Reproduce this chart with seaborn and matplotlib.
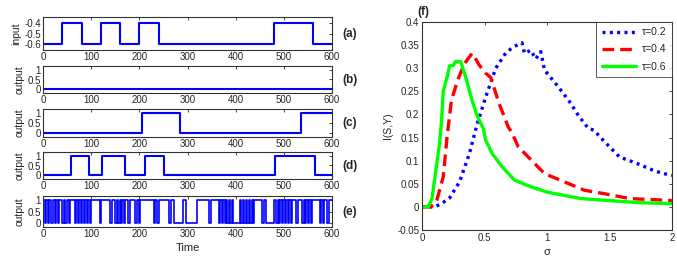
import numpy as np
import pandas as pd
import matplotlib
matplotlib.use("Agg")
import matplotlib.pyplot as plt
from matplotlib.ticker import FuncFormatter
import seaborn as sns

# ---------------- data ----------------
time_max = 600
input_levels = [-0.6, -0.4]
input_high = [(40, 80), (120, 160), (200, 240), (480, 560)]
out_b_high = []
out_c_high = [(205, 284), (535, 600)]
out_d_high = [(59, 96), (122, 170), (211, 251), (481, 564)]
out_e_high = [(0, 4), (7, 10), (13, 17), (20, 24), (27, 31), (34, 40), (43, 46), (49, 53),
              (56, 66), (69, 72), (75, 79), (82, 85), (88, 91), (94, 97), (100, 118),
              (121, 140), (143, 150), (153, 156), (159, 162), (165, 168), (171, 176),
              (181, 190), (196, 199), (202, 230), (233, 237), (240, 262), (266, 271),
              (290, 296), (320, 345), (348, 365), (368, 371), (374, 377), (380, 383),
              (386, 389), (392, 395), (409, 412), (415, 418), (421, 424), (427, 430),
              (433, 436), (439, 455), (458, 463), (480, 484), (487, 490), (493, 496),
              (499, 502), (505, 508), (511, 514), (517, 526), (529, 538), (541, 544),
              (547, 550), (553, 556), (559, 575), (578, 581), (584, 590), (593, 600)]
out_levels = [0, 1]

sigma_02 = [0, 0.05, 0.10, 0.15, 0.22, 0.30, 0.38, 0.44, 0.51, 0.59, 0.67, 0.73, 0.80,
            0.82, 0.87, 0.91, 0.95, 0.98, 1.09, 1.19, 1.25, 1.33, 1.375, 1.45, 1.58,
            1.72, 1.85, 1.92, 2.0]
info_02 = [0, 0, 0, 0.006, 0.019, 0.054, 0.116, 0.178, 0.238, 0.30, 0.333, 0.346, 0.355,
           0.332, 0.339, 0.32, 0.336, 0.296, 0.26, 0.224, 0.198, 0.17, 0.166, 0.144, 0.108,
           0.094, 0.079, 0.073, 0.068]
sigma_04 = [0, 0.07, 0.115, 0.17, 0.20, 0.235, 0.285, 0.34, 0.40, 0.42, 0.457, 0.51, 0.55,
            0.616, 0.69, 0.72, 0.77, 0.875, 0.98, 1.14, 1.30, 1.45, 1.66, 1.98, 2.0]
info_04 = [0, 0, 0.011, 0.065, 0.15, 0.23, 0.274, 0.31, 0.332, 0.325, 0.307, 0.289, 0.28,
           0.224, 0.173, 0.16, 0.13, 0.101, 0.072, 0.054, 0.036, 0.029, 0.018, 0.014, 0.013]
sigma_06 = [0, 0.05, 0.08, 0.115, 0.14, 0.155, 0.17, 0.205, 0.22, 0.25, 0.27, 0.31, 0.35,
            0.40, 0.44, 0.49, 0.51, 0.56, 0.64, 0.74, 0.875, 1.0, 1.27, 1.53, 1.75, 2.0]
info_06 = [0, 0, 0.018, 0.087, 0.137, 0.18, 0.25, 0.285, 0.305, 0.306, 0.315, 0.314, 0.28,
           0.231, 0.198, 0.17, 0.144, 0.116, 0.087, 0.058, 0.043, 0.032, 0.018, 0.013,
           0.009, 0.007]
tau_labels = ["τ=0.2", "τ=0.4", "τ=0.6"]
panel_labels = ["(a)", "(b)", "(c)", "(d)", "(e)"]

# ---------------- style ----------------
sns.set_style("white")
plt.rcParams["font.family"] = ["Liberation Sans", "DejaVu Sans"]
plt.rcParams["axes.edgecolor"] = "#333333"
plt.rcParams["axes.linewidth"] = 0.8

W, H = 677, 259
fig = plt.figure(figsize=(W / 100, H / 100), dpi=100)


def rect(x0, y0, x1, y1):
    return [x0 / W, 1 - y1 / H, (x1 - x0) / W, (y1 - y0) / H]


def steps(intervals, lo, hi, tmax=time_max):
    t = [0.0]
    v = [lo]
    for s, e in intervals:
        if s == 0:
            v[0] = hi
        else:
            t.append(s)
            v.append(hi)
        if e < tmax:
            t.append(e)
            v.append(lo)
    t.append(tmax)
    v.append(v[-1])
    return pd.DataFrame({"t": t, "v": v})


left_rows = [(17, 50), (66, 93), (109, 137), (152, 179), (196, 227)]
signals = [(input_high, input_levels), (out_b_high, out_levels), (out_c_high, out_levels),
           (out_d_high, out_levels), (out_e_high, out_levels)]

fmt_g = FuncFormatter(lambda v, p: ("%g" % v))
for i, ((y0, y1), (iv, lv)) in enumerate(zip(left_rows, signals)):
    ax = fig.add_axes(rect(43, y0, 332, y1))
    df = steps(iv, lv[0], lv[1])
    sns.lineplot(data=df, x="t", y="v", ax=ax, drawstyle="steps-post", color="#0000ff",
                 lw=1.5 if i < 4 else 1.2, sort=False, estimator=None)
    ax.set_xlim(0, 600)
    ax.set_xticks(range(0, 601, 100))
    if i == 0:
        ax.set_ylim(-0.66, -0.34)
        ax.set_yticks([-0.6, -0.5, -0.4])
        ax.set_ylabel("input", fontsize=7.5, labelpad=2)
    else:
        ax.set_ylim(-0.2, 1.2)
        ax.set_yticks([0, 0.5, 1])
        ax.set_ylabel("output", fontsize=7.5, labelpad=2)
    ax.yaxis.set_major_formatter(fmt_g)
    ax.set_xlabel("")
    ax.tick_params(direction="in", top=True, right=True, length=2.5, width=0.6,
                   labelsize=7, pad=1.5)
    ax.text(1.035, 0.5, panel_labels[i], transform=ax.transAxes, fontsize=8.5,
            fontweight="bold", va="center", ha="left")
    if i == 4:
        ax.set_xlabel("Time", fontsize=8, labelpad=3)

# ---------------- right panel ----------------
axf = fig.add_axes(rect(422, 22, 672, 230))
curves = [(sigma_02, info_02, "#0000ff", (0, (0.9, 1.3))),
          (sigma_04, info_04, "#ff0000", (0, (3.5, 1.8))),
          (sigma_06, info_06, "#00ff00", "-")]
for (sx, iy, col, ls), lab in zip(curves, tau_labels):
    sns.lineplot(x=sx, y=iy, ax=axf, color=col, lw=2.4, linestyle=ls, label=lab,
                 sort=False, estimator=None)
axf.set_xlim(0, 2)
axf.set_ylim(-0.05, 0.4)
axf.set_xticks([0, 0.5, 1, 1.5, 2])
axf.set_yticks(np.arange(-0.05, 0.401, 0.05))
axf.xaxis.set_major_formatter(fmt_g)
axf.yaxis.set_major_formatter(FuncFormatter(lambda v, p: "%g" % round(v, 2)))
axf.tick_params(direction="in", top=True, right=True, length=2.5, width=0.6,
                labelsize=7, pad=2)
axf.set_xlabel("σ", fontsize=8, labelpad=3)
axf.set_ylabel("I(S,Y)", fontsize=7.5, labelpad=3)
axf.text(-0.02, 1.02, "(f)", transform=axf.transAxes, fontsize=8.5, fontweight="bold",
         ha="left", va="bottom")
leg = axf.legend(loc="upper right", fontsize=7.5, frameon=True, fancybox=False,
                 edgecolor="#333333", handlelength=3.3, borderaxespad=0.0,
                 borderpad=0.5, labelspacing=0.7, handletextpad=0.6)
leg.get_frame().set_linewidth(0.7)

fig.savefig("out.png", dpi=100)
